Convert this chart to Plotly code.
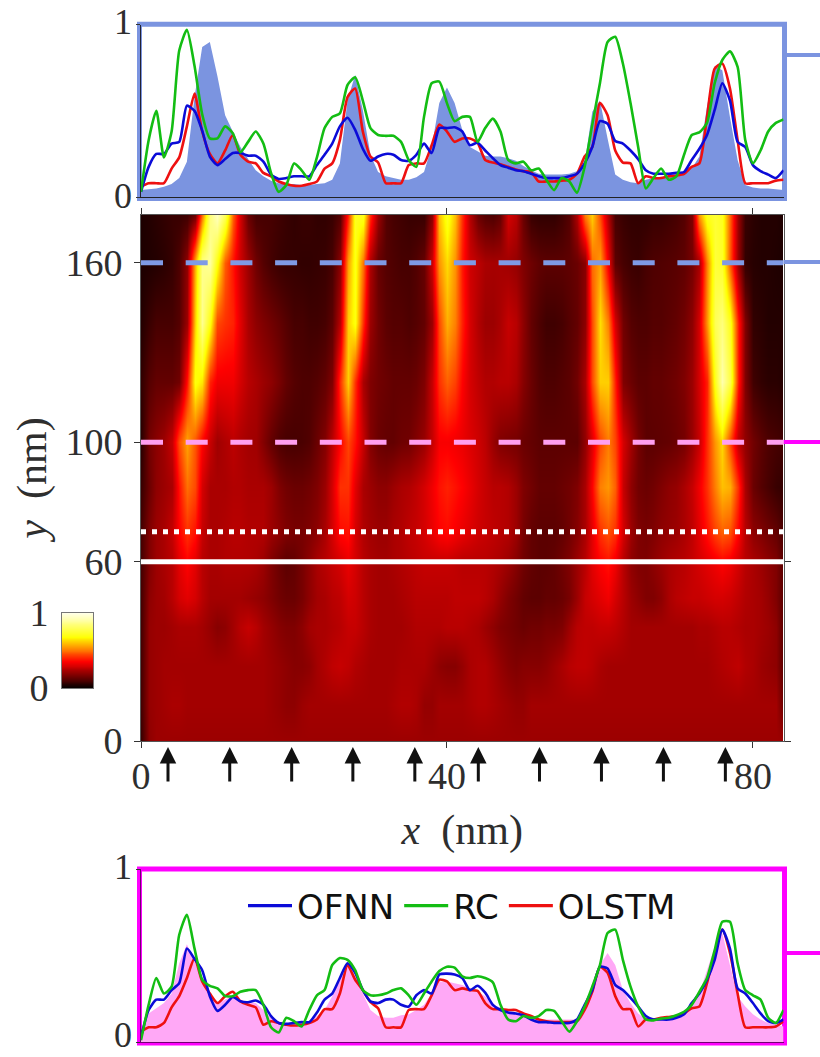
import plotly.graph_objects as go

W, H = 820, 1057
X_NM = list(range(85))

# ---- upper profile panel (y = 160 nm)
TOP_TRUTH = [.04,.045,.05,.06,.075,.11,.205,.58,.87,.90,
 .70,.475,.38,.29,.22,.155,.12,.095,.08,.075,
 .075,.07,.07,.075,.08,.10,.195,.56,.71,.505,
 .245,.145,.12,.11,.10,.10,.115,.145,.29,.545,
 .635,.545,.39,.29,.265,.24,.235,.235,.225,.21,
 .18,.155,.135,.13,.13,.13,.135,.15,.195,.495,
 .56,.34,.13,.10,.085,.08,.10,.11,.115,.12,
 .125,.135,.165,.235,.525,.76,.735,.465,.215,.07,
 .055,.05,.05,.045,.04]
TOP_OFNN = [.03,.175,.25,.25,.31,.32,.53,.50,.385,.235,
 .185,.22,.255,.255,.24,.24,.205,.13,.105,.11,
 .12,.12,.12,.185,.245,.31,.41,.46,.39,.28,
 .21,.235,.25,.245,.215,.21,.245,.31,.255,.40,
 .40,.405,.38,.30,.315,.27,.225,.185,.17,.155,
 .15,.135,.12,.11,.11,.11,.12,.135,.195,.29,
 .44,.425,.325,.31,.27,.22,.155,.135,.135,.135,
 .14,.145,.215,.28,.36,.505,.66,.56,.32,.29,
 .185,.15,.13,.11,.155]
TOP_RC = [.03,.33,.50,.23,.38,.85,.97,.76,.48,.34,
 .34,.41,.37,.26,.32,.38,.31,.14,.03,.07,
 .195,.155,.10,.23,.40,.465,.485,.65,.695,.56,
 .40,.36,.355,.355,.32,.215,.175,.465,.66,.67,
 .545,.44,.465,.465,.32,.40,.455,.38,.215,.195,
 .205,.155,.165,.10,.04,.11,.09,.025,.175,.42,
 .66,.90,.93,.775,.545,.29,.05,.11,.165,.10,
 .12,.245,.36,.375,.43,.66,.795,.845,.755,.33,
 .195,.27,.38,.43,.45]
TOP_OLSTM = [.06,.08,.08,.08,.165,.23,.41,.60,.38,.25,
 .195,.27,.36,.245,.205,.195,.14,.12,.09,.075,
 .065,.065,.075,.09,.165,.195,.33,.58,.63,.38,
 .235,.20,.08,.08,.08,.185,.195,.195,.30,.42,
 .38,.32,.34,.34,.315,.215,.20,.19,.175,.16,
 .15,.145,.09,.09,.09,.095,.10,.135,.235,.29,
 .545,.475,.27,.20,.195,.08,.12,.11,.11,.12,
 .125,.135,.175,.195,.465,.745,.775,.63,.33,.08,
 .08,.08,.08,.095,.10]

# ---- lower profile panel (y = 100 nm)
BOT_TRUTH = [.06,.165,.195,.225,.28,.455,.565,.465,.36,.28,
 .225,.245,.265,.245,.23,.225,.185,.14,.11,.10,
 .10,.105,.115,.15,.185,.265,.36,.445,.38,.28,
 .185,.15,.14,.14,.155,.16,.185,.215,.28,.35,
 .35,.34,.33,.31,.29,.265,.215,.18,.17,.165,
 .15,.14,.13,.13,.13,.13,.13,.13,.205,.31,
 .445,.515,.445,.30,.225,.165,.13,.13,.135,.14,
 .15,.165,.215,.28,.415,.55,.63,.445,.265,.205,
 .16,.13,.11,.10,.09]
BOT_OFNN = [.03,.185,.245,.245,.30,.34,.54,.48,.415,.265,
 .18,.215,.26,.235,.23,.24,.215,.15,.11,.105,
 .11,.115,.115,.17,.245,.28,.37,.455,.40,.30,
 .235,.225,.245,.245,.215,.205,.27,.30,.28,.39,
 .395,.39,.37,.30,.325,.285,.215,.185,.17,.165,
 .155,.13,.115,.115,.11,.11,.11,.13,.215,.30,
 .435,.425,.33,.30,.255,.205,.15,.13,.13,.13,
 .14,.16,.225,.28,.36,.475,.65,.54,.31,.28,
 .225,.165,.12,.11,.13]
BOT_RC = [.01,.215,.37,.28,.32,.62,.735,.54,.36,.325,
 .31,.265,.265,.29,.30,.30,.215,.085,.055,.14,
 .12,.09,.185,.27,.30,.445,.485,.475,.415,.30,
 .27,.27,.28,.30,.31,.27,.215,.28,.35,.41,
 .435,.43,.38,.37,.38,.37,.345,.215,.13,.12,
 .15,.14,.15,.185,.18,.12,.06,.12,.205,.32,
 .445,.63,.65,.475,.32,.205,.13,.125,.135,.14,
 .155,.175,.215,.29,.37,.53,.695,.695,.455,.30,
 .27,.245,.14,.11,.185]
BOT_OLSTM = [.06,.085,.085,.11,.20,.265,.37,.485,.35,.28,
 .225,.265,.29,.235,.215,.20,.10,.12,.11,.10,
 .095,.10,.11,.13,.19,.19,.28,.445,.36,.30,
 .23,.195,.085,.085,.085,.185,.19,.19,.27,.36,
 .35,.30,.31,.30,.295,.225,.19,.19,.185,.185,
 .165,.15,.13,.12,.115,.115,.115,.12,.185,.29,
 .435,.40,.265,.19,.19,.09,.13,.13,.14,.145,
 .15,.165,.195,.205,.34,.515,.65,.515,.28,.085,
 .085,.085,.085,.09,.12]

# ---- heat map, one row per height
HEAT_Y = [0, 12, 25, 38, 48, 60, 70, 85, 100, 120, 140, 160, 176]
ROW_0 = [.08,.20] + [.22] * 83
ROW_12 = [.10,.21,.22,.23,.24,.24,.23,.23,.23,.23,
 .23,.23,.23,.23,.23,.23,.23,.22,.21,.20,
 .20,.22,.23,.23,.23,.23,.23,.23,.23,.23,
 .23,.23,.23,.24,.25,.25,.24,.21,.21,.23,
 .23,.23,.23,.24,.25,.25,.24,.23,.22,.21,
 .21,.23,.23,.23,.23,.23,.23,.23,.23,.23,
 .23,.23,.23,.23,.23,.23,.23,.23,.23,.23,
 .23,.23,.23,.23,.23,.23,.23,.23,.23,.23,
 .23,.23,.23,.23,.14]
ROW_25 = [.10,.21,.22,.23,.23,.23,.23,.23,.23,.23,
 .23,.23,.23,.23,.23,.23,.23,.22,.21,.20,
 .19,.19,.20,.23,.25,.27,.28,.27,.25,.24,
 .23,.23,.23,.23,.24,.24,.24,.24,.22,.20,
 .19,.19,.21,.24,.25,.25,.23,.21,.19,.18,
 .19,.19,.19,.20,.22,.24,.26,.27,.27,.26,
 .24,.23,.23,.23,.23,.23,.23,.23,.23,.23,
 .23,.23,.23,.23,.23,.24,.25,.26,.27,.25,
 .24,.22,.21,.20,.12]
ROW_38 = [.10,.21,.22,.22,.23,.24,.24,.24,.23,.21,
 .19,.20,.23,.26,.28,.26,.23,.21,.19,.18,
 .18,.20,.23,.24,.24,.25,.26,.28,.28,.26,
 .24,.23,.23,.23,.23,.24,.25,.25,.25,.25,
 .26,.26,.26,.25,.24,.22,.20,.18,.17,.16,
 .15,.16,.16,.17,.17,.18,.22,.26,.27,.27,
 .28,.28,.27,.25,.23,.23,.23,.23,.23,.23,
 .23,.23,.23,.24,.24,.25,.26,.26,.25,.24,
 .24,.23,.22,.20,.12]
ROW_48 = [.10,.20,.22,.23,.26,.30,.32,.30,.26,.23,
 .23,.23,.23,.23,.22,.21,.20,.18,.16,.15,
 .15,.17,.20,.23,.24,.26,.27,.30,.29,.26,
 .24,.23,.23,.23,.24,.25,.26,.26,.26,.26,
 .26,.27,.27,.27,.27,.26,.24,.21,.18,.16,
 .14,.13,.13,.14,.14,.15,.17,.22,.28,.30,
 .32,.34,.30,.26,.22,.20,.18,.18,.20,.24,
 .26,.27,.28,.28,.29,.30,.30,.29,.27,.25,
 .24,.23,.21,.18,.12]
ROW_60 = [.10,.18,.22,.24,.26,.32,.36,.32,.26,.24,
 .24,.25,.25,.25,.25,.24,.22,.18,.15,.13,
 .14,.17,.20,.24,.26,.28,.30,.33,.30,.26,
 .24,.23,.23,.24,.25,.26,.27,.28,.28,.28,
 .28,.27,.26,.26,.26,.26,.25,.24,.22,.19,
 .16,.14,.13,.13,.14,.16,.18,.22,.26,.32,
 .36,.38,.34,.26,.20,.18,.18,.20,.22,.24,
 .25,.26,.28,.30,.32,.34,.36,.34,.30,.26,
 .24,.22,.20,.18,.12]
ROW_70 = [.10,.18,.22,.24,.28,.36,.42,.38,.28,.24,
 .24,.25,.26,.26,.25,.25,.25,.22,.20,.18,
 .17,.17,.18,.20,.24,.30,.37,.38,.30,.25,
 .23,.22,.22,.24,.25,.27,.28,.30,.33,.36,
 .37,.35,.33,.31,.29,.28,.27,.26,.25,.22,
 .17,.14,.13,.13,.13,.14,.16,.19,.24,.32,
 .42,.46,.42,.30,.22,.18,.17,.18,.20,.21,
 .22,.24,.27,.32,.38,.44,.48,.46,.36,.26,
 .20,.18,.16,.14,.10]
ROW_85 = [.08,.15,.20,.22,.24,.38,.50,.45,.30,.24,
 .24,.24,.25,.25,.24,.24,.24,.22,.18,.16,
 .15,.15,.16,.18,.22,.30,.42,.42,.32,.24,
 .22,.20,.20,.22,.24,.25,.27,.30,.34,.38,
 .40,.38,.36,.33,.30,.28,.26,.26,.25,.22,
 .18,.16,.14,.14,.14,.15,.16,.18,.24,.36,
 .52,.55,.48,.28,.20,.16,.15,.16,.18,.20,
 .21,.24,.28,.34,.42,.52,.60,.58,.42,.24,
 .15,.12,.10,.08,.07]
ROW_120 = [.07,.12,.14,.14,.14,.16,.38,.70,.65,.40,
 .34,.34,.34,.30,.26,.24,.22,.20,.17,.14,
 .12,.11,.11,.12,.14,.18,.42,.62,.42,.24,
 .18,.16,.15,.14,.14,.14,.15,.18,.28,.42,
 .48,.44,.36,.30,.27,.25,.25,.26,.26,.24,
 .19,.15,.12,.11,.11,.12,.13,.16,.24,.45,
 .62,.62,.40,.18,.15,.13,.13,.14,.14,.15,
 .16,.18,.22,.30,.40,.72,.92,.78,.40,.18,
 .09,.07,.06,.06,.05]
ROW_140 = [.05,.08,.10,.10,.10,.12,.22,.62,.88,.70,
 .45,.42,.40,.32,.24,.20,.18,.16,.14,.12,
 .10,.10,.09,.09,.10,.13,.26,.62,.70,.42,
 .22,.16,.13,.12,.12,.11,.12,.14,.22,.45,
 .58,.52,.40,.30,.25,.22,.22,.24,.28,.26,
 .20,.14,.11,.09,.09,.10,.12,.14,.20,.45,
 .64,.52,.30,.16,.12,.11,.11,.12,.12,.13,
 .14,.16,.20,.30,.55,.80,.85,.72,.40,.18,
 .07,.06,.05,.05,.05]
ROW_176 = [.04,.05,.06,.07,.08,.08,.09,.15,.50,.85,
 .95,.80,.48,.30,.15,.10,.10,.10,.09,.08,
 .07,.08,.08,.07,.07,.08,.12,.40,.72,.72,
 .42,.22,.12,.10,.09,.08,.08,.08,.20,.60,
 .72,.60,.42,.25,.15,.12,.11,.14,.30,.26,
 .15,.08,.07,.07,.07,.09,.12,.25,.52,.62,
 .45,.25,.10,.08,.07,.07,.07,.08,.08,.09,
 .10,.12,.18,.55,.72,.75,.72,.48,.22,.08,
 .06,.05,.05,.05,.04]
HEAT_ROWS = [ROW_0, ROW_12, ROW_25, ROW_38, ROW_48, ROW_60, ROW_70, ROW_85,
             BOT_TRUTH, ROW_120, ROW_140, TOP_TRUTH, ROW_176]

SCALE_VALUES = [0, .05, .1, .15, .2, .25, .3, .35, .4, .45, .5,
                .55, .6, .65, .7, .75, .8, .85, .9, .95, 1]
HOT = [[0, "#000000"], [.36, "#ff0000"], [.68, "#ffff00"], [1, "#ffffe6"]]

X_TICKS = [0, 40, 80]
Y_TICKS = [0, 60, 100, 160]
UNIT_TICKS = [0, 1]
ARROW_X = [3.53, 11.6, 19.7, 27.7, 35.8, 44.1, 52.1, 60.2, 68.3, 76.4]
SLICE_TOP_Y = 160
SLICE_BOT_Y = 100
DOTTED_Y = 70
SOLID_Y = 60

BLUE_FRAME = "#7b94e0"
BLUE_DASH = "#7f9ae5"
PINK_FILL = "#ffa8f6"
PINK_DASH = "#ff9ff0"
MAGENTA = "#ff00ff"
C_OFNN, C_RC, C_OLSTM = "#0b0bd8", "#13bd13", "#ee1010"
SERIF = "Liberation Serif"
INK = "#2e2e2e"
SMOOTH = dict(shape="spline", smoothing=0.6, width=2.6)


def fx(px):
    return px / W


def fy(px):
    return 1 - px / H


fig = go.Figure()

fig.add_trace(go.Scatter(x=X_NM, y=TOP_TRUTH, mode="none", fill="tozeroy",
                         fillcolor=BLUE_FRAME, xaxis="x", yaxis="y", showlegend=False))
for name, vals, col in [("OLSTM", TOP_OLSTM, C_OLSTM), ("OFNN", TOP_OFNN, C_OFNN), ("RC", TOP_RC, C_RC)]:
    fig.add_trace(go.Scatter(x=X_NM, y=vals, mode="lines", name=name, line=dict(SMOOTH, color=col),
                             xaxis="x", yaxis="y", showlegend=False))

fig.add_trace(go.Heatmap(x=X_NM, y=HEAT_Y, z=HEAT_ROWS, zmin=0, zmax=1, colorscale=HOT,
                         zsmooth="best", showscale=False, xaxis="x2", yaxis="y2"))

fig.add_trace(go.Scatter(x=X_NM, y=BOT_TRUTH, mode="none", fill="tozeroy",
                         fillcolor=PINK_FILL, xaxis="x3", yaxis="y3", showlegend=False))
for name, vals, col in [("OLSTM", BOT_OLSTM, C_OLSTM), ("OFNN", BOT_OFNN, C_OFNN), ("RC", BOT_RC, C_RC)]:
    fig.add_trace(go.Scatter(x=X_NM, y=vals, mode="lines", name=name, line=dict(SMOOTH, color=col),
                             xaxis="x3", yaxis="y3", showlegend=False))
# legend entries in the reference order
for name, col in [("OFNN", C_OFNN), ("RC", C_RC), ("OLSTM", C_OLSTM)]:
    fig.add_trace(go.Scatter(x=[None], y=[None], mode="lines", name=name, line=dict(color=col, width=3.2),
                             xaxis="x3", yaxis="y3"))

fig.add_trace(go.Heatmap(x=[0, 1], y=SCALE_VALUES, z=[[v, v] for v in SCALE_VALUES], zmin=0, zmax=1,
                         colorscale=HOT, zsmooth="best", showscale=False, xaxis="x4", yaxis="y4"))

tickfont = dict(family=SERIF, size=38, color=INK)
panelfont = dict(family=SERIF, size=36, color=INK)
titlefont = dict(family=SERIF, size=42, color=INK)
panel_x = dict(range=[0, 84], showticklabels=False, ticks="", showgrid=False, zeroline=False,
               showline=True, linewidth=1, automargin=False)
panel_y = dict(range=[0, 1], tickvals=UNIT_TICKS, ticks="outside", ticklen=4, tickcolor="#333",
               showticklabels=False, showgrid=False, zeroline=False, showline=True, linewidth=1,
               automargin=False)

arrows = [
    dict(x=a, y=fy(747), xref="x2", yref="paper", ax=0, ay=36, showarrow=True, text="",
         arrowhead=2, arrowsize=1.1, arrowwidth=3, arrowcolor="#111", standoff=0)
    for a in ARROW_X
]
panel_labels = [
    dict(x=fx(134), y=fy(22), xref="paper", yref="paper", text="1", showarrow=False,
         xanchor="right", yanchor="middle", font=panelfont),
    dict(x=fx(134), y=fy(196), xref="paper", yref="paper", text="0", showarrow=False,
         xanchor="right", yanchor="middle", font=panelfont),
    dict(x=fx(134), y=fy(867), xref="paper", yref="paper", text="1", showarrow=False,
         xanchor="right", yanchor="middle", font=panelfont),
    dict(x=fx(134), y=0, xref="paper", yref="paper", text="0", showarrow=False,
         xanchor="right", yanchor="bottom", font=panelfont),
]

fig.update_layout(
    template="none",
    width=W, height=H, margin=dict(l=0, r=0, t=0, b=0, autoexpand=False), paper_bgcolor="white",
    plot_bgcolor="rgba(0,0,0,0)",
    xaxis=dict(panel_x, domain=[fx(141), fx(783.5)], anchor="y", linecolor="#222"),
    yaxis=dict(panel_y, domain=[fy(197), fy(24.7)], anchor="x", linecolor="#223"),
    xaxis2=dict(range=[0, 84], domain=[fx(141), fx(783.5)], anchor="y2", tickvals=X_TICKS, ticks="outside",
                ticklen=6, tickcolor="#333", tickfont=tickfont, showgrid=False, zeroline=False,
                showline=True, linecolor="#555", linewidth=1, mirror="ticks", ticklabelstandoff=-5,
                automargin=False,
                title=dict(text="<i>x</i>  (nm)", font=titlefont, standoff=19)),
    yaxis2=dict(range=[0, 176], domain=[fy(741), fy(215)], anchor="x2", tickvals=Y_TICKS, ticks="outside",
                ticklen=6, tickcolor="#333", tickfont=tickfont, showgrid=False, zeroline=False,
                showline=True, linecolor="#555", linewidth=1, mirror="ticks", ticklabelstandoff=4,
                automargin=False,
                title=dict(text="<i>y</i>  (nm)", font=titlefont, standoff=5)),
    xaxis3=dict(panel_x, domain=[fx(141), fx(783.5)], anchor="y3", linecolor="#700070"),
    yaxis3=dict(panel_y, domain=[fy(1042), fy(869)], anchor="x3", linecolor="#700070"),
    xaxis4=dict(range=[0, 1], domain=[fx(62), fx(93)], anchor="y4", showticklabels=False, ticks="",
                showgrid=False, zeroline=False, showline=True, linecolor="#777", linewidth=1, mirror=True,
                automargin=False),
    yaxis4=dict(range=[0, 1], domain=[fy(688), fy(613)], anchor="x4", tickvals=UNIT_TICKS, ticks="",
                tickfont=tickfont, showgrid=False, zeroline=False, showline=True, linecolor="#777",
                linewidth=1, mirror=True, ticklabelstandoff=5, automargin=False),
    legend=dict(orientation="h", x=fx(243), y=fy(906), xanchor="left", yanchor="middle",
                bgcolor="rgba(0,0,0,0)", font=dict(family="DejaVu Sans", size=34, color="#111"),
                itemwidth=44, tracegroupgap=0),
    shapes=[
        dict(type="rect", xref="paper", yref="paper", x0=fx(139.5), x1=fx(784.5), y0=fy(198.5), y1=fy(24.2),
             line=dict(color=BLUE_FRAME, width=5), layer="below"),
        dict(type="rect", xref="paper", yref="paper", x0=fx(139.5), x1=fx(784.5), y0=fy(1043), y1=fy(869),
             line=dict(color=MAGENTA, width=5), layer="below"),
        dict(type="line", xref="paper", yref="paper", x0=fx(787), x1=1, y0=fy(55), y1=fy(55),
             line=dict(color=BLUE_FRAME, width=4)),
        dict(type="line", xref="paper", yref="paper", x0=fx(783.5), x1=1, y0=fy(262), y1=fy(262),
             line=dict(color=BLUE_FRAME, width=4)),
        dict(type="line", xref="paper", yref="paper", x0=fx(783.5), x1=1, y0=fy(442), y1=fy(442),
             line=dict(color=MAGENTA, width=4)),
        dict(type="line", xref="paper", yref="paper", x0=fx(787), x1=1, y0=fy(953), y1=fy(953),
             line=dict(color=MAGENTA, width=4)),
        dict(type="line", xref="x2", yref="y2", x0=0, x1=84, y0=SLICE_TOP_Y, y1=SLICE_TOP_Y,
             line=dict(color=BLUE_DASH, width=5, dash="22px,22.7px")),
        dict(type="line", xref="x2", yref="y2", x0=0, x1=84, y0=SLICE_BOT_Y, y1=SLICE_BOT_Y,
             line=dict(color=PINK_DASH, width=5, dash="22px,22.7px")),
        dict(type="line", xref="x2", yref="y2", x0=0, x1=84, y0=DOTTED_Y, y1=DOTTED_Y,
             line=dict(color="white", width=5, dash="5px,6px")),
        dict(type="line", xref="x2", yref="y2", x0=0, x1=84, y0=SOLID_Y, y1=SOLID_Y,
             line=dict(color="white", width=5)),
    ],
    annotations=arrows + panel_labels,
)

fig.write_html("out.html", config=dict(displayModeBar=False),
               post_script="document.body.style.margin='0';document.body.style.overflow='hidden';")
